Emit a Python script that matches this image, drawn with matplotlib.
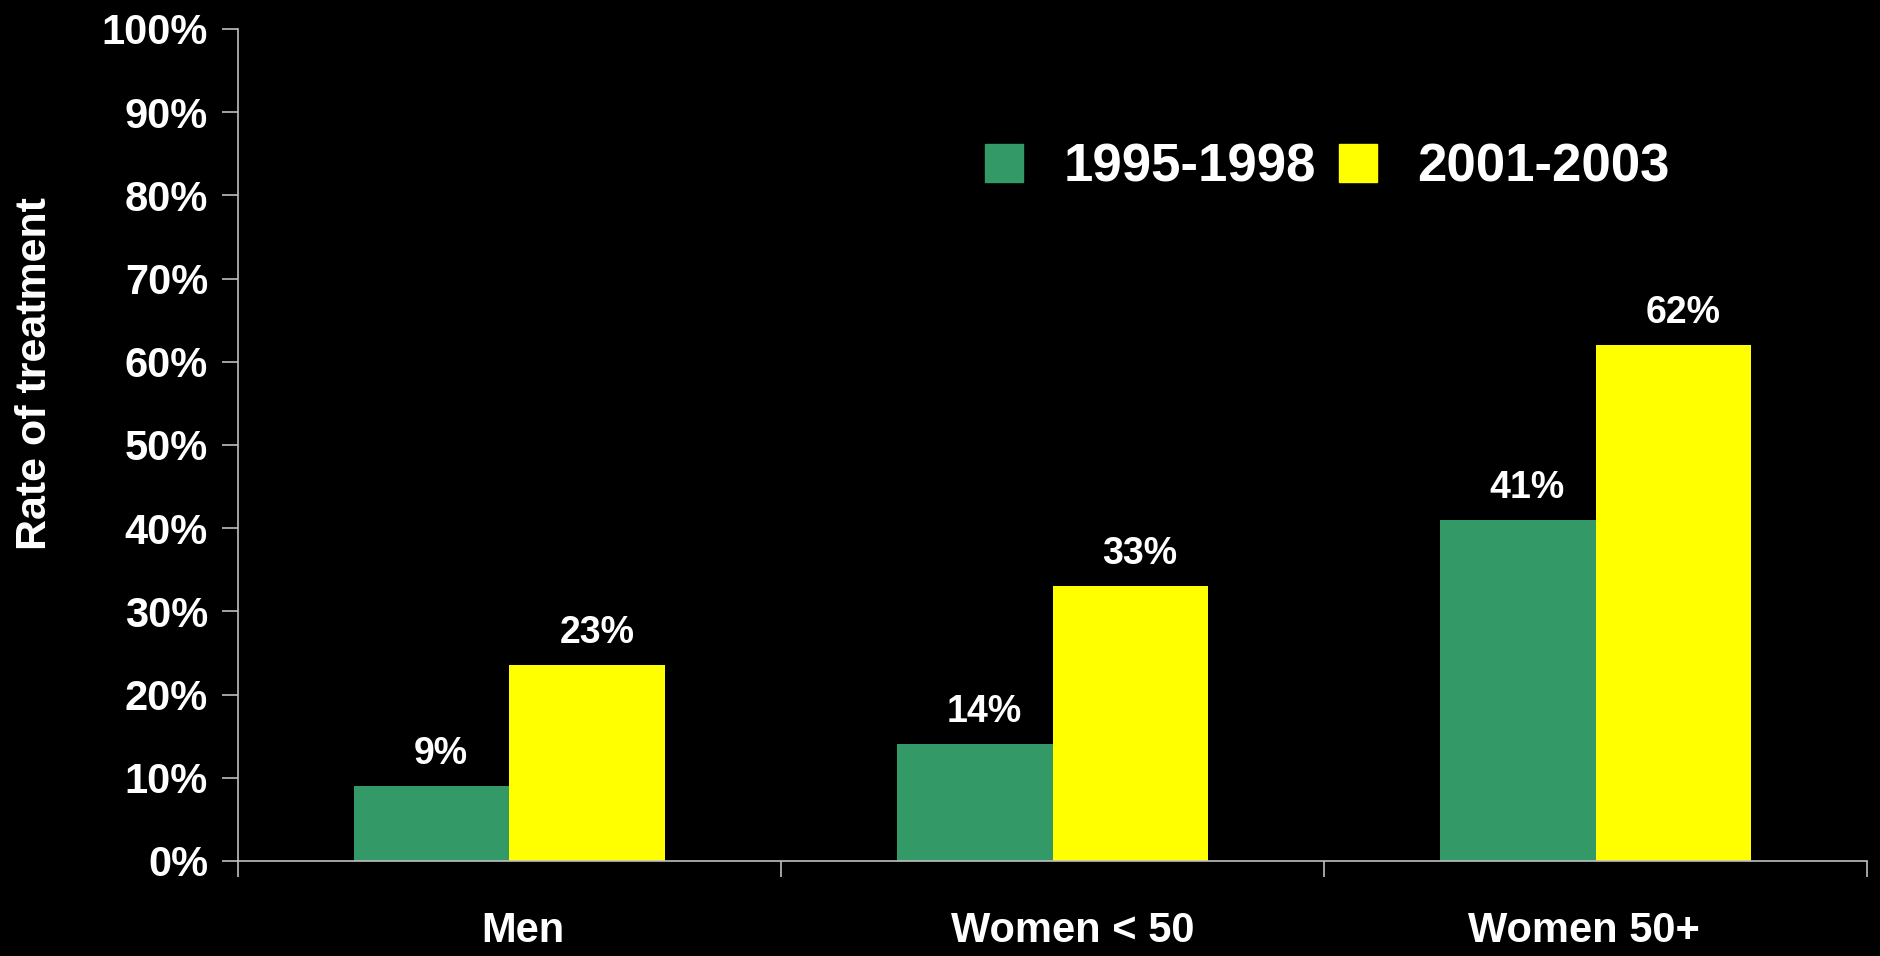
import matplotlib.pyplot as plt
from matplotlib.lines import Line2D

plt.rcParams['font.family'] = ['Liberation Sans', 'DejaVu Sans']
plt.rcParams['font.weight'] = 'bold'

groups = ['Men', 'Women < 50', 'Women 50+']
series_names = ['1995-1998', '2001-2003']
rate_early = [9, 14, 41]
rate_late = [23.5, 33, 62]
labels_early = ['9%', '14%', '41%']
labels_late = ['23%', '33%', '62%']
ytick_vals = [0, 10, 20, 30, 40, 50, 60, 70, 80, 90, 100]
ytick_labels = ['0%', '10%', '20%', '30%', '40%', '50%', '60%', '70%', '80%', '90%', '100%']

green = '#339966'
yellow = '#FFFF00'
axis_col = '#BFBFBF'

fig = plt.figure(figsize=(18.81, 9.56), dpi=100, facecolor='black')
ax = fig.add_axes([0.1265, 0.0994, 0.8661, 0.8703], facecolor='black')

w = 0.287
x = list(range(len(groups)))
bars1 = ax.bar([i - w / 2 for i in x], rate_early, width=w, color=green, zorder=2)
bars2 = ax.bar([i + w / 2 for i in x], rate_late, width=w, color=yellow, zorder=2)

# value labels above the bars (sit a little right of centre, like the original)
for bars, texts in [(bars1, labels_early), (bars2, labels_late)]:
    for b, t in zip(bars, texts):
        ax.annotate(t, (b.get_x() + b.get_width() / 2, b.get_height()),
                    xytext=(7, 16), textcoords='offset points',
                    ha='center', va='baseline', color='white',
                    fontsize=27, fontweight='bold')

ax.set_xlim(-0.5, 2.5)
ax.set_ylim(0, 100)

ax.set_yticks(ytick_vals)
ax.set_yticklabels(ytick_labels)
ax.tick_params(axis='y', colors=axis_col, labelcolor='white', labelsize=30,
               length=11.5, width=1.2, direction='out', pad=10)

# boundary ticks below the axis, group names as minor ticks
ax.set_xticks([-0.5, 0.5, 1.5, 2.5])
ax.set_xticklabels([])
ax.set_xticks([0.024, 1.037, 1.978], minor=True)
ax.set_xticklabels(groups, minor=True)
ax.tick_params(axis='x', which='major', colors=axis_col, length=11.5, width=1.2, direction='out')
ax.tick_params(axis='x', which='minor', length=0, labelcolor='white', labelsize=30, pad=36)

for side in ['top', 'right']:
    ax.spines[side].set_visible(False)
for side in ['left', 'bottom']:
    ax.spines[side].set_color(axis_col)
    ax.spines[side].set_linewidth(1.2)

fig.text(0.0185, 1 - 374 / 956, 'Rate of treatment', rotation=90, ha='center', va='center',
         color='white', fontsize=31, fontweight='bold')

handles = [Line2D([], [], marker='s', linestyle='none', markersize=27, color=green),
           Line2D([], [], marker='s', linestyle='none', markersize=27, color=yellow)]
leg = fig.legend(handles, series_names, loc='center left',
                 bbox_to_anchor=(978 / 1881, 1 - 167 / 956), bbox_transform=fig.transFigure,
                 ncol=2, frameon=False, fontsize=38, handlelength=1.0,
                 handletextpad=0.62, columnspacing=0.3, borderpad=0, borderaxespad=0)
for t in leg.get_texts():
    t.set_color('white')
    t.set_fontweight('bold')

plt.savefig('out.png', facecolor='black')
